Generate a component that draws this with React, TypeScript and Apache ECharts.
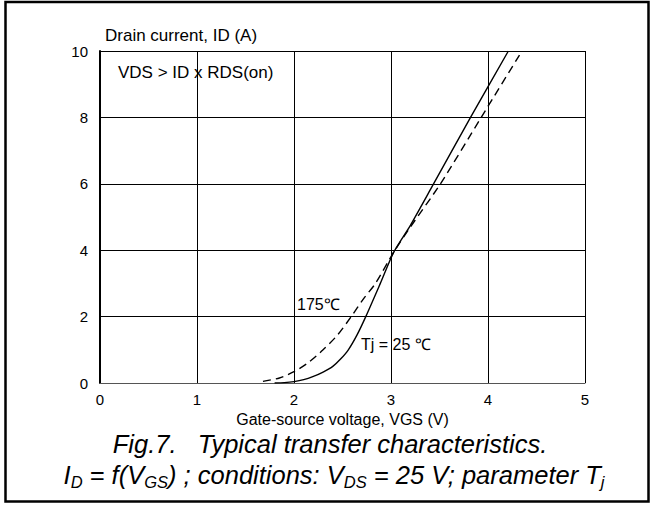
import React, { useEffect, useRef } from "react";
import * as echarts from "echarts";

const xTicks = [0, 1, 2, 3, 4, 5];
const yTicks = [0, 2, 4, 6, 8, 10];

const vgs25 = [1.8, 1.9, 2.0, 2.1, 2.2, 2.3, 2.4, 2.48, 2.56, 2.65, 2.74, 2.89, 3.03, 3.2, 3.43, 3.82, 4.21];
const id25 = [0, 0.01, 0.04, 0.1, 0.2, 0.33, 0.5, 0.72, 1.0, 1.45, 2.0, 3.0, 3.95, 4.75, 5.95, 8.0, 10.0];

const vgs175 = [1.68, 1.85, 2.0, 2.15, 2.3, 2.45, 2.59, 2.72, 2.84, 3.03, 3.2, 3.51, 3.93, 4.35];
const id175 = [0.05, 0.15, 0.34, 0.62, 1.0, 1.45, 2.0, 2.55, 3.0, 3.95, 4.7, 6.0, 8.0, 10.0];

const FONT = "Liberation Sans, Arial, sans-serif";

export default function App() {
  const ref = useRef<HTMLDivElement>(null);
  useEffect(() => {
    document.body.style.margin = "0";
    const chart = echarts.init(ref.current!, null, { renderer: "svg" });
    const toPairs = (xs: number[], ys: number[]) => xs.map((x, i) => [x, ys[i]]);
    chart.setOption({
      animation: false,
      backgroundColor: "#ffffff",
      textStyle: { fontFamily: FONT },
      grid: { left: 100, top: 51, width: 485, height: 332 },
      xAxis: {
        type: "value",
        min: xTicks[0],
        max: xTicks[xTicks.length - 1],
        interval: 1,
        name: "Gate-source voltage, VGS (V)",
        nameLocation: "middle",
        nameGap: 26,
        nameTextStyle: { color: "#000", fontSize: 16, fontFamily: FONT },
        axisLine: { show: true, lineStyle: { color: "#555", width: 1 } },
        axisTick: { show: false },
        axisLabel: { color: "#000", fontSize: 15, fontFamily: FONT, margin: 9 },
        splitLine: { show: true, lineStyle: { color: "#000", width: 1 } },
      },
      yAxis: {
        type: "value",
        min: yTicks[0],
        max: yTicks[yTicks.length - 1],
        interval: 2,
        name: "Drain current, ID (A)",
        nameLocation: "end",
        nameGap: 7,
        nameTextStyle: {
          color: "#000",
          fontSize: 17,
          fontFamily: FONT,
          align: "left",
          padding: [0, 0, 0, 5],
        },
        axisLine: { show: true, lineStyle: { color: "#000", width: 2 } },
        axisTick: { show: false },
        axisLabel: { color: "#000", fontSize: 15, fontFamily: FONT, margin: 12 },
        splitLine: { show: true, lineStyle: { color: "#000", width: 1 } },
      },
      series: [
        {
          name: "Tj = 25 ℃",
          type: "line",
          data: toPairs(vgs25, id25),
          smooth: 0.25,
          showSymbol: false,
          lineStyle: { color: "#000", width: 1.4 },
        },
        {
          name: "175 ℃",
          type: "line",
          data: toPairs(vgs175, id175),
          smooth: 0.25,
          showSymbol: false,
          lineStyle: { color: "#000", width: 1.4, type: [8, 5] },
        },
      ],
      graphic: [
        {
          type: "rect",
          shape: { x: 5.5, y: 2, width: 643, height: 499.5 },
          style: { fill: "none", stroke: "#000", lineWidth: 2.5 },
          silent: true,
        },
        {
          type: "text",
          left: 118,
          top: 64,
          style: { text: "VDS > ID x RDS(on)", fontSize: 17, fontFamily: FONT, fill: "#000" },
        },
        {
          type: "text",
          left: 297,
          top: 296,
          style: { text: "175℃", fontSize: 16, fontFamily: FONT, fill: "#000" },
        },
        {
          type: "text",
          left: 361,
          top: 336,
          style: { text: "Tj = 25 ℃", fontSize: 16, fontFamily: FONT, fill: "#000" },
        },
        {
          type: "text",
          x: 330,
          y: 444,
          style: {
            text: "Fig.7.   Typical transfer characteristics.",
            fontSize: 25.5,
            fontStyle: "italic",
            fontFamily: FONT,
            fill: "#000",
            align: "center",
            verticalAlign: "middle",
          },
        },
        {
          type: "text",
          x: 334,
          y: 475,
          style: {
            text: "{i|I}{s|D}{i| = f(V}{s|GS}{i|) ; conditions: V}{s|DS}{i| = 25 V; parameter T}{s|j}",
            align: "center",
            verticalAlign: "middle",
            rich: {
              i: { fontSize: 25.5, lineHeight: 30, fontStyle: "italic", fontFamily: FONT, fill: "#000" },
              s: {
                fontSize: 16.5,
                lineHeight: 16,
                fontStyle: "italic",
                fontFamily: FONT,
                fill: "#000",
                verticalAlign: "bottom",
                padding: [14, 0, 0, 0],
              },
            },
          },
        },
      ],
    });
    return () => chart.dispose();
  }, []);
  return <div ref={ref} style={{ width: 652, height: 506 }} />;
}
